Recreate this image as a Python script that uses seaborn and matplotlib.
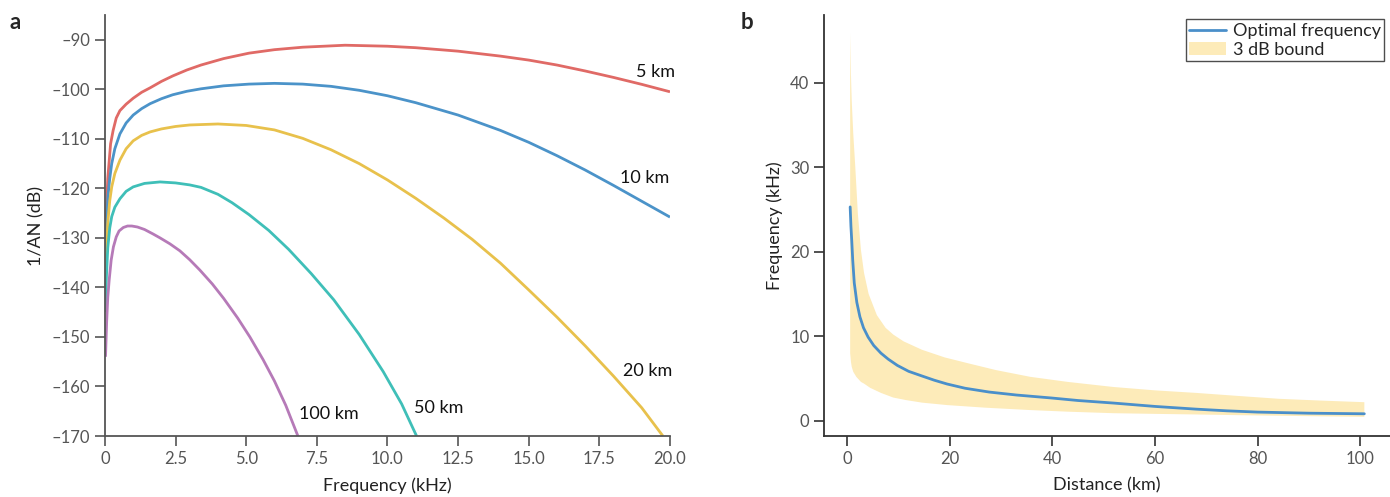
import numpy as np
import pandas as pd
import matplotlib
matplotlib.use("Agg")
import matplotlib.pyplot as plt
import seaborn as sns

# ---------------- data: panel a (1/AN in dB vs frequency in kHz) ----------------
freq_5km = [0.02, 0.05, 0.1, 0.2, 0.29, 0.4, 0.53, 0.75, 1.0, 1.3, 1.6, 2.0, 2.4, 2.9, 3.4, 4.2, 5.1,
            6.0, 7.0, 8.5, 10.0, 11.0, 12.5, 14.0, 15.0, 16.0, 17.0, 18.0, 19.0, 20.0]
an_5km = [-132, -125, -118, -111, -108.3, -105.8, -104.3, -103.0, -101.8, -100.6, -99.7, -98.4, -97.3,
          -96.1, -95.1, -93.8, -92.7, -92.0, -91.5, -91.1, -91.3, -91.6, -92.3, -93.3, -94.1, -95.1,
          -96.3, -97.6, -99.0, -100.5]

freq_10km = [0.02, 0.05, 0.1, 0.17, 0.24, 0.35, 0.53, 0.75, 1.0, 1.3, 1.6, 2.0, 2.4, 2.9, 3.4, 4.2, 5.1,
             6.0, 7.0, 8.0, 9.0, 10.0, 11.0, 12.5, 14.0, 15.0, 16.0, 17.0, 18.0, 19.0, 20.0]
an_10km = [-136, -129, -122, -118, -115, -112, -109, -106.8, -105.2, -103.9, -102.9, -101.9, -101.1,
           -100.4, -99.9, -99.3, -98.95, -98.8, -98.95, -99.4, -100.2, -101.3, -102.7, -105.2, -108.3,
           -110.7, -113.4, -116.3, -119.4, -122.6, -125.8]

freq_20km = [0.02, 0.05, 0.1, 0.17, 0.24, 0.35, 0.53, 0.75, 1.0, 1.3, 1.6, 2.0, 2.5, 3.0, 4.0, 5.0,
             6.0, 7.0, 8.0, 9.0, 10.0, 11.0, 12.0, 13.0, 14.0, 15.0, 16.0, 17.0, 18.0, 19.0, 19.75]
an_20km = [-140, -133, -127, -122.5, -119.7, -117, -114.3, -112, -110.4, -109.3, -108.6, -108.0,
           -107.5, -107.2, -107.0, -107.3, -108.2, -109.9, -112.2, -115.0, -118.3, -122.0, -126.0,
           -130.3, -135.1, -140.5, -146.0, -151.8, -157.9, -164.3, -170.0]

freq_50km = [0.02, 0.05, 0.1, 0.17, 0.24, 0.35, 0.53, 0.75, 1.0, 1.4, 1.95, 2.5, 3.0, 3.4, 4.0, 4.5,
             5.1, 5.8, 6.5, 7.3, 8.1, 9.0, 9.85, 10.5, 11.03]
an_50km = [-145, -138, -132, -128, -125.7, -123.8, -122.1, -120.6, -119.7, -119.0, -118.7, -118.9,
           -119.3, -119.8, -121.2, -122.9, -125.3, -128.5, -132.3, -137.2, -142.5, -149.5, -157.0,
           -163.5, -170.0]

freq_100km = [0.02, 0.06, 0.1, 0.15, 0.22, 0.3, 0.4, 0.5, 0.65, 0.8, 0.95, 1.15, 1.4, 1.7, 1.95, 2.3,
              2.65, 3.0, 3.36, 3.8, 4.2, 4.7, 5.13, 5.6, 6.0, 6.4, 6.83]
an_100km = [-154, -147, -142, -138.5, -134.5, -131.8, -129.8, -128.6, -127.9, -127.6, -127.6, -127.8,
            -128.3, -129.2, -130.0, -131.2, -132.6, -134.4, -136.5, -139.3, -142.2, -146.2, -150.0,
            -154.6, -158.9, -163.8, -170.0]

distance_labels = ["5 km", "10 km", "20 km", "50 km", "100 km"]

# ---------------- data: panel b (optimal frequency vs distance) ----------------
dist_opt = [0.6, 0.75, 0.9, 1.1, 1.4, 1.9, 2.5, 3.2, 4.1, 5.2, 6.6, 8.0, 9.8, 12.0, 14.6, 17.0, 19.5,
            23.0, 27.7, 33.0, 39.8, 45.0, 51.9, 60.0, 68.0, 74.0, 80.0, 90.0, 100.8]
freq_opt = [25.3, 23.0, 21.4, 19.0, 16.3, 14.0, 12.3, 11.0, 9.9, 8.9, 8.0, 7.3, 6.55, 5.85, 5.3, 4.8,
            4.35, 3.85, 3.4, 3.05, 2.7, 2.4, 2.1, 1.7, 1.38, 1.18, 1.03, 0.9, 0.83]

dist_upper = [0.6, 0.75, 0.9, 1.2, 1.6, 2.1, 2.7, 3.3, 4.2, 5.8, 7.5, 9.0, 11.0, 14.6, 19.0, 23.6,
              29.0, 35.7, 43.0, 51.9, 60.0, 68.0, 76.0, 84.2, 92.0, 100.8]
band_upper = [45.8, 41.0, 37.9, 34.0, 30.0, 24.5, 20.2, 17.5, 15.0, 12.5, 11.0, 10.2, 9.4, 8.4, 7.5,
              6.8, 6.0, 5.2, 4.6, 4.0, 3.6, 3.3, 2.95, 2.6, 2.4, 2.2]
dist_lower = [0.6, 0.75, 0.9, 1.2, 1.8, 2.7, 3.3, 4.5, 6.6, 9.0, 11.5, 14.6, 19.5, 27.0, 35.7, 43.0,
              51.9, 60.0, 68.0, 76.0, 84.2, 92.0, 100.8]
band_lower = [8.0, 7.0, 6.4, 5.8, 5.2, 4.6, 4.4, 3.9, 3.3, 2.75, 2.45, 2.15, 1.86, 1.55, 1.27, 1.08,
              0.9, 0.82, 0.75, 0.67, 0.6, 0.53, 0.47]

# ---------------- styling ----------------
sns.set_theme(style="ticks")
plt.rcParams["font.family"] = ["Lato", "DejaVu Sans"]

curve_colors = ["#e06a66", "#4b93c9", "#e8c14c", "#3fbfb8", "#b67ab8"]
band_color = "#fdebb9"
opt_color = "#4a8fca"
spine_gray = "#555555"
text_gray = "#555555"

frames = []
for lab, fr, an in zip(distance_labels,
                       [freq_5km, freq_10km, freq_20km, freq_50km, freq_100km],
                       [an_5km, an_10km, an_20km, an_50km, an_100km]):
    frames.append(pd.DataFrame({"Frequency": fr, "AN": an, "Distance": lab}))
df_a = pd.concat(frames, ignore_index=True)

fig = plt.figure(figsize=(13.9, 4.97), dpi=100)
ax1 = fig.add_axes([0.0755, 0.1227, 0.4065, 0.8471])
ax2 = fig.add_axes([0.5928, 0.1227, 0.4072, 0.8471])

# ---- panel a ----
sns.lineplot(data=df_a, x="Frequency", y="AN", hue="Distance", hue_order=distance_labels,
             palette=curve_colors, sort=False, estimator=None, linewidth=2.0,
             legend=False, ax=ax1)
for ln in ax1.get_lines():
    ln.set_solid_joinstyle("round")
    ln.set_solid_capstyle("butt")
ax1.set_xlim(0, 20)
ax1.set_ylim(-170, -85)
ax1.set_xticks(np.arange(0, 20.1, 2.5))
ax1.set_xticklabels(["0"] + [f"{v:.1f}" for v in np.arange(2.5, 20.1, 2.5)])
ax1.set_yticks(np.arange(-170, -89, 10))
ax1.set_yticklabels([f"\u2013{abs(v)}" for v in np.arange(-170, -89, 10)])
ax1.set_xlabel("Frequency (kHz)", fontsize=13, color="#222222", labelpad=8)
ax1.set_ylabel("1/AN (dB)", fontsize=13, color="#222222", labelpad=5)

label_pos = [(19.47, -96.5), (19.1, -117.9), (19.2, -156.9), (11.8, -164.3), (7.93, -165.6)]
for lab, (x, y) in zip(distance_labels, label_pos):
    ax1.text(x, y, lab, ha="center", va="center", fontsize=13, color="#111111")

# ---- panel b ----
ax2.fill(list(dist_upper) + list(dist_lower[::-1]), list(band_upper) + list(band_lower[::-1]),
         color=band_color, linewidth=0, label="3 dB bound")
sns.lineplot(x=dist_opt, y=freq_opt, color=opt_color, linewidth=2.0, ax=ax2,
             label="Optimal frequency", sort=False, estimator=None)
for ln in ax2.get_lines():
    ln.set_solid_joinstyle("round")
ax2.set_xlim(-4.5, 105.8)
ax2.set_ylim(-1.8, 48)
ax2.set_xticks([0, 20, 40, 60, 80, 100])
ax2.set_yticks([0, 10, 20, 30, 40])
ax2.set_xlabel("Distance (km)", fontsize=13, color="#222222", labelpad=8)
ax2.set_ylabel("Frequency (kHz)", fontsize=13, color="#222222", labelpad=5)

handles, labels = ax2.get_legend_handles_labels()
order = [labels.index("Optimal frequency"), labels.index("3 dB bound")]
leg = ax2.legend([handles[i] for i in order], [labels[i] for i in order],
                 loc="upper right", bbox_to_anchor=(0.99, 0.99), fontsize=13,
                 frameon=True, fancybox=False, edgecolor="#222222",
                 borderpad=0.2, handlelength=2.0, handletextpad=0.4, labelspacing=0.15,
                 borderaxespad=0.0)
leg.get_frame().set_linewidth(1.0)

for ax, sc in [(ax1, spine_gray), (ax2, "#333333")]:
    sns.despine(ax=ax)
    for s in ["left", "bottom"]:
        ax.spines[s].set_color(sc)
        ax.spines[s].set_linewidth(1.3)
    ax.tick_params(axis="both", colors=sc, labelcolor=text_gray, labelsize=12,
                   length=7, width=1.2, direction="out")

fig.text(0.007, 0.955, "a", fontsize=16, fontweight="bold", va="center", ha="left")
fig.text(0.533, 0.955, "b", fontsize=16, fontweight="bold", va="center", ha="left")

fig.savefig("out.png", dpi=100)
